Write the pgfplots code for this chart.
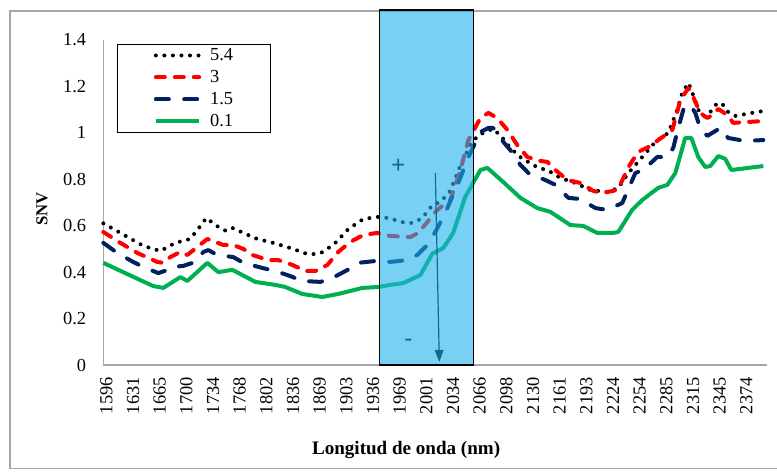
\documentclass[border=0pt]{standalone}
\usepackage{pgfplots}
\pgfplotsset{compat=1.18}
\usepackage{pgfplotstable}
\usepackage{fontspec}
\setmainfont{Liberation Serif}
\usetikzlibrary{arrows.meta}
\definecolor{snvred}{RGB}{255,0,0}
\definecolor{snvnavy}{RGB}{0,32,96}
\definecolor{snvgreen}{RGB}{0,176,80}
\definecolor{boxblue}{RGB}{30,177,238}

\pgfplotstableread{
x y
0 0.61
0.64 0.569
1.50 0.513
2.14 0.491
2.70 0.526
3.26 0.543
3.64 0.599
3.86 0.633
4.31 0.595
4.61 0.577
4.87 0.59
5.21 0.571
5.77 0.543
6.37 0.526
7.01 0.504
7.65 0.478
7.95 0.478
8.25 0.487
8.70 0.526
9.19 0.586
9.75 0.629
10.31 0.638
10.69 0.633
11.33 0.612
11.62 0.612
11.96 0.633
12.34 0.689
12.64 0.702
13.01 0.75
13.39 0.86
13.76 0.948
14.06 0.99
14.59 1.017
14.89 0.99
15.26 0.935
15.71 0.888
16.01 0.87
16.31 0.849
16.65 0.84
17.14 0.806
17.70 0.784
18.26 0.754
18.90 0.745
19.31 0.763
19.69 0.827
20.21 0.896
20.70 0.961
21.19 1.0
21.52 1.099
21.71 1.172
21.94 1.215
22.05 1.185
22.31 1.099
22.57 1.069
22.84 1.099
23.02 1.129
23.25 1.12
23.43 1.09
23.70 1.073
24.33 1.086
24.75 1.094
}\tblA

\pgfplotstableread{
x y
0 0.573
0.64 0.526
1.27 0.483
2.02 0.444
2.25 0.44
2.51 0.465
2.89 0.487
3.15 0.474
3.52 0.508
3.90 0.543
4.20 0.53
4.50 0.517
4.87 0.517
5.25 0.5
5.59 0.474
6.19 0.452
6.56 0.452
7.09 0.431
7.57 0.405
7.95 0.405
8.40 0.431
8.81 0.487
9.26 0.53
9.75 0.56
10.27 0.569
10.76 0.556
11.51 0.551
11.81 0.569
12.15 0.616
12.52 0.668
13.01 0.711
13.39 0.84
13.69 0.969
14.14 1.064
14.44 1.086
14.77 1.064
15.15 1.013
15.52 0.948
15.90 0.896
16.39 0.879
16.65 0.875
16.95 0.84
17.40 0.797
17.89 0.784
18.37 0.75
18.71 0.741
19.12 0.75
19.31 0.758
19.69 0.853
20.06 0.918
20.44 0.939
20.81 0.969
21.34 1.013
21.64 1.142
21.94 1.193
22.12 1.155
22.38 1.086
22.65 1.064
22.84 1.077
23.06 1.103
23.40 1.077
23.62 1.043
24.75 1.051
}\tblB

\pgfplotstableread{
x y
0 0.526
0.52 0.483
1.12 0.444
1.50 0.422
2.06 0.396
2.40 0.409
2.59 0.422
3.00 0.427
3.45 0.444
3.75 0.487
3.94 0.495
4.27 0.474
4.87 0.465
5.25 0.44
5.96 0.418
6.45 0.405
7.01 0.383
7.46 0.362
8.14 0.358
8.59 0.375
9.15 0.409
9.56 0.44
10.20 0.448
10.76 0.444
11.40 0.452
11.77 0.474
12.15 0.517
12.45 0.573
12.82 0.655
13.31 0.784
13.69 0.896
14.14 1.004
14.44 1.021
14.62 1.021
15.00 0.961
15.26 0.926
15.64 0.862
15.94 0.827
16.57 0.797
16.95 0.776
17.44 0.72
17.89 0.715
18.45 0.676
18.90 0.668
19.46 0.698
19.95 0.827
20.25 0.84
20.77 0.896
21.15 0.896
21.37 0.935
21.56 1.021
21.78 1.112
22.01 1.12
22.20 1.086
22.38 1.021
22.65 0.987
23.14 1.021
23.43 0.978
24.07 0.965
24.75 0.969
}\tblC

\pgfplotstableread{
x y
0 0.44
1.12 0.38
1.87 0.34
2.25 0.332
2.89 0.379
3.15 0.362
3.90 0.44
4.31 0.40
4.84 0.41
5.70 0.358
6.45 0.345
6.82 0.336
7.46 0.306
8.21 0.293
8.81 0.306
9.71 0.332
10.31 0.336
10.76 0.345
11.25 0.353
11.89 0.388
12.34 0.48
12.75 0.504
13.12 0.569
13.57 0.724
14.14 0.84
14.40 0.849
15.00 0.788
15.64 0.72
16.27 0.676
16.76 0.66
17.51 0.603
18.00 0.599
18.52 0.569
19.12 0.569
19.31 0.573
19.83 0.668
20.21 0.711
20.81 0.763
21.15 0.776
21.45 0.827
21.82 0.978
22.05 0.978
22.31 0.896
22.57 0.853
22.76 0.857
23.06 0.90
23.32 0.888
23.55 0.84
24.75 0.857
}\tblD

\begin{document}
\begin{tikzpicture}[x=1pt,y=1pt]
\useasboundingbox (0,0) rectangle (582.75,353.25);
\clip (0,0) rectangle (582.75,353.25);
\draw[gray!70, line width=0.9pt] (7.5,2.0) rectangle (600,345);
\begin{axis}[
  at={(77.5pt,79.5pt)}, anchor=south west,
  scale only axis, width=498pt, height=243.75pt,
  xmin=0, xmax=24.9, ymin=0, ymax=1.4,
  clip=false,
  axis x line*=bottom, axis y line*=left,
  axis line style={draw=gray!70, line width=0.9pt, -},
  major tick length=0pt,
  xtick={0,...,24},
  xticklabels={1596,1631,1665,1700,1734,1768,1802,1836,1869,1903,1936,1969,2001,2034,2066,2098,2130,2161,2193,2224,2254,2285,2315,2345,2374},
  ytick={0,0.2,0.4,0.6,0.8,1,1.2,1.4},
  /pgf/number format/assume math mode=true,
  /pgf/number format/fixed,
  ticklabel style={font=\fontsize{13.8}{16}\selectfont},
  yticklabel style={anchor=east, inner sep=0pt, xshift=-12.75pt},
  xticklabel style={rotate=90, anchor=east, inner sep=0pt, text height=13.5pt, text depth=0pt},
  xticklabel shift=9pt,
  xlabel={Longitud de onda (nm)},
  xlabel style={font=\bfseries\fontsize{14.3}{17}\selectfont, at={(axis description cs:0.456,-0.2615)}, anchor=center},
  ylabel={SNV},
  ylabel style={font=\bfseries\fontsize{12.5}{15}\selectfont, at={(axis description cs:-0.0923,0.48)}, anchor=center, rotate=0},
  legend cell align=left,
  legend image code/.code={\path[draw=none,fill=none] (0pt,0pt) (62pt,0pt); \draw[#1] (28.5pt,0pt) -- (61pt,0pt);},
  legend style={at={(0.0211,0.9877)}, anchor=north west, draw=black, line width=0.75pt,
    inner xsep=0pt, inner ysep=0pt, row sep=0pt, column sep=6.75pt,
    font=\fontsize{13.8}{16}\selectfont,
    nodes={inner sep=0pt, minimum height=16.5pt, text width=45pt, align=left}},
  every axis plot/.append style={line join=round},
]
\addplot[black, line width=3pt, line cap=round, dash pattern=on 0pt off 6.4pt] table {\tblA};
\addlegendentry{5.4}
\addplot[snvred, line width=3pt, line cap=round, dash pattern=on 6.75pt off 7.5pt] table {\tblB};
\addlegendentry{3}
\addplot[snvnavy, line width=3pt, line cap=round, dash pattern=on 9.75pt off 11.5pt] table {\tblC};
\addlegendentry{1.5}
\addplot[snvgreen, line width=3pt] table {\tblD};
\addlegendentry{0.1}
\node[font=\bfseries\fontsize{19}{22}\selectfont, text=black] at (axis cs:11.06,0.857) {+};
\node[font=\bfseries\fontsize{17}{20}\selectfont, text=black] at (axis cs:11.44,0.099) {-};
\draw[black, line width=0.9pt, -{Triangle[length=9pt,width=6.5pt]}] (axis cs:12.45,0.827) -- (axis cs:12.6,0.013);
\fill[boxblue, fill opacity=0.6] (axis cs:10.35,0) rectangle (axis cs:13.87,1.529);
\draw[black, line width=1pt] (axis cs:10.35,0) rectangle (axis cs:13.87,1.529);
\end{axis}
\end{tikzpicture}
\end{document}
